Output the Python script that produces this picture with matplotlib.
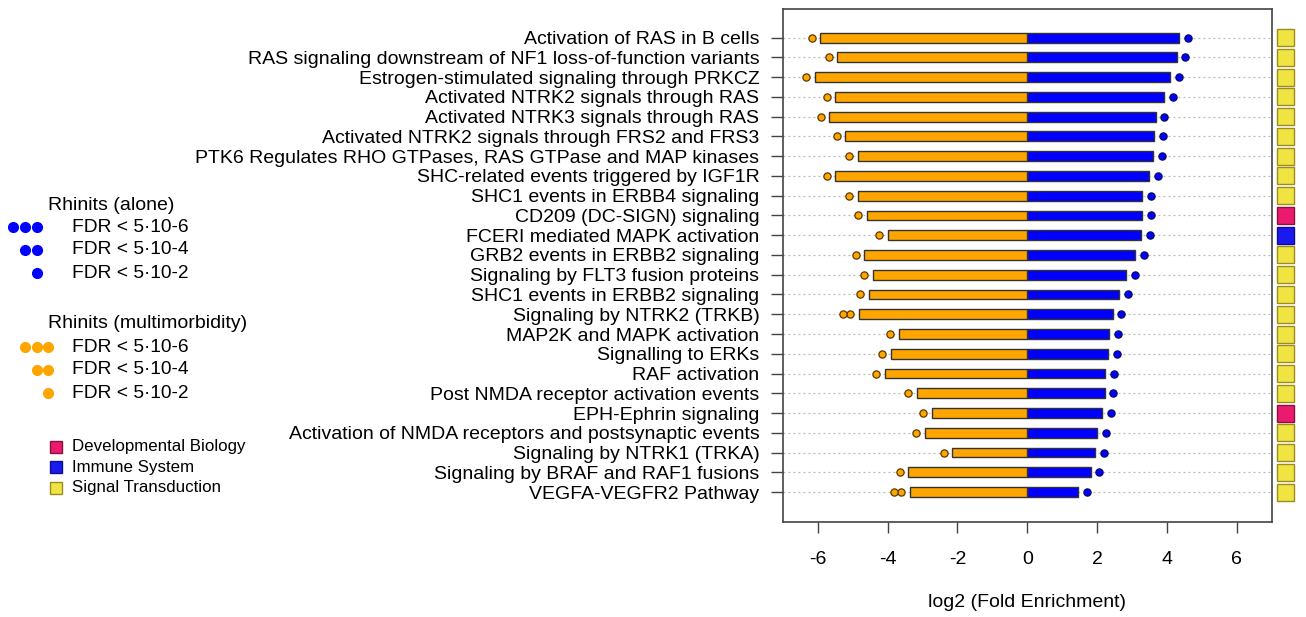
import matplotlib
matplotlib.use("Agg")
import matplotlib.pyplot as plt
from matplotlib.patches import Rectangle
import numpy as np

plt.rcParams['font.family'] = ['Liberation Sans', 'DejaVu Sans']

pathways = [
    "Activation of RAS in B cells",
    "RAS signaling downstream of NF1 loss-of-function variants",
    "Estrogen-stimulated signaling through PRKCZ",
    "Activated NTRK2 signals through RAS",
    "Activated NTRK3 signals through RAS",
    "Activated NTRK2 signals through FRS2 and FRS3",
    "PTK6 Regulates RHO GTPases, RAS GTPase and MAP kinases",
    "SHC-related events triggered by IGF1R",
    "SHC1 events in ERBB4 signaling",
    "CD209 (DC-SIGN) signaling",
    "FCERI mediated MAPK activation",
    "GRB2 events in ERBB2 signaling",
    "Signaling by FLT3 fusion proteins",
    "SHC1 events in ERBB2 signaling",
    "Signaling by NTRK2 (TRKB)",
    "MAP2K and MAPK activation",
    "Signalling to ERKs",
    "RAF activation",
    "Post NMDA receptor activation events",
    "EPH-Ephrin signaling",
    "Activation of NMDA receptors and postsynaptic events",
    "Signaling by NTRK1 (TRKA)",
    "Signaling by BRAF and RAF1 fusions",
    "VEGFA-VEGFR2 Pathway",
]
# log2 fold enrichment, rhinitis alone (positive side)
fe_alone = [4.35, 4.28, 4.09, 3.93, 3.68, 3.63, 3.60, 3.50, 3.29, 3.29, 3.26, 3.09,
            2.84, 2.63, 2.45, 2.35, 2.32, 2.23, 2.22, 2.15, 2.00, 1.94, 1.82, 1.45]
# log2 fold enrichment, rhinitis multimorbidity (drawn on negative side)
fe_multi = [5.93, 5.44, 6.08, 5.50, 5.67, 5.21, 4.86, 5.50, 4.86, 4.60, 4.00, 4.67,
            4.43, 4.54, 4.83, 3.67, 3.91, 4.09, 3.16, 2.73, 2.94, 2.15, 3.41, 3.37]
# number of significance dots (1: FDR<5e-2, 2: FDR<5e-4, 3: FDR<5e-6)
fdr_alone_level = [1] * 24
fdr_multi_level = [1, 1, 1, 1, 1, 1, 1, 1, 1, 1, 1, 1, 1, 1, 2, 1, 1, 1, 1, 1, 1, 1, 1, 2]
categories = ["Signal Transduction"] * 9 + ["Developmental Biology", "Immune System"] + \
             ["Signal Transduction"] * 8 + ["Developmental Biology"] + ["Signal Transduction"] * 4
cat_names = ["Developmental Biology", "Immune System", "Signal Transduction"]
cat_colors = {"Developmental Biology": ("#EA1A6E", "#8A1040"),
              "Immune System": ("#1A1AEE", "#10108A"),
              "Signal Transduction": ("#F0E442", "#9A8C20")}
xticks = [-6, -4, -2, 0, 2, 4, 6]
fdr_labels = ["FDR < 5·10-6", "FDR < 5·10-4", "FDR < 5·10-2"]

ORANGE = "#FFA500"
BLUE = "#0000FF"
FS = 14

W, H = 1306, 617
fig = plt.figure(figsize=(W / 100, H / 100), dpi=100)

def px_rect(x0, y0, x1, y1):
    return [x0 / W, 1 - y1 / H, (x1 - x0) / W, (y1 - y0) / H]

ax = fig.add_axes(px_rect(783, 9, 1271.5, 521.7))
n = len(pathways)
ypos = np.arange(n, 0, -1)

for y in ypos:
    ax.axhline(y, color="#b8b8b8", lw=0.9, ls=(0, (1.5, 2.5)), zorder=0)

ax.barh(ypos, fe_alone, height=0.5, color=BLUE, edgecolor="#333333", lw=1.0, zorder=2)
ax.barh(ypos, [-v for v in fe_multi], height=0.5, color=ORANGE, edgecolor="#333333", lw=1.0, zorder=2)

off1, off2 = 0.25, 0.20
for y, v, k in zip(ypos, fe_alone, fdr_alone_level):
    xs = [v + off1 + off2 * j for j in range(k)]
    ax.plot(xs, [y] * k, ls="none", marker="o", ms=5.2, mfc=BLUE, mec="#0a0a60", mew=0.9, zorder=3)
for y, v, k in zip(ypos, fe_multi, fdr_multi_level):
    xs = [-(v + off1 + off2 * j) for j in range(k)]
    ax.plot(xs, [y] * k, ls="none", marker="o", ms=5.2, mfc=ORANGE, mec="#5a3a00", mew=0.9, zorder=3)

ax.set_xlim(-7, 7)
ax.set_ylim(-0.5, n + 1.45)
ax.set_xticks(xticks)
ax.set_xticklabels([str(t) for t in xticks], fontsize=FS)
ax.set_yticks(ypos)
ax.set_yticklabels(pathways, fontsize=FS)
ax.tick_params(axis="x", length=8, width=1, color="#444444", pad=13)
ax.tick_params(axis="y", length=9, width=1, color="#444444", pad=8)
for s in ax.spines.values():
    s.set_color("#444444")
    s.set_linewidth(1.2)
ax.set_xlabel("log2 (Fold Enrichment)", fontsize=FS, labelpad=19)

# category squares
cax = fig.add_axes(px_rect(1276, 9, 1296, 521.7), sharey=ax)
cax.set_xlim(0, 1)
cax.axis("off")
for y, c in zip(ypos, categories):
    fc, ec = cat_colors[c]
    cax.add_patch(Rectangle((0.05, y - 0.43), 0.85, 0.86, facecolor=fc, edgecolor=ec, lw=1.0, clip_on=False))

# left legends in pixel coordinates
lax = fig.add_axes([0, 0, 1, 1])
lax.set_xlim(0, W)
lax.set_ylim(H, 0)
lax.axis("off")
lax.text(48, 205, "Rhinits (alone)", fontsize=FS, va="center", ha="left")
for i, lab in enumerate(fdr_labels):
    yy = 227 + i * 23
    lax.text(72, yy, lab, fontsize=13.8, va="center", ha="left")
    k = 3 - i
    lax.plot([37 - 12 * j for j in range(k)], [yy] * k, ls="none", marker="o", ms=7, color=BLUE)
lax.text(48, 323, "Rhinits (multimorbidity)", fontsize=FS, va="center", ha="left")
for i, lab in enumerate(fdr_labels):
    yy = 347 + i * 23
    lax.text(72, yy, lab, fontsize=13.8, va="center", ha="left")
    k = 3 - i
    lax.plot([48 - 11.5 * j for j in range(k)], [yy] * k, ls="none", marker="o", ms=7, color=ORANGE)
for i, c in enumerate(cat_names):
    yy = 447 + i * 20.3
    fc, ec = cat_colors[c]
    lax.add_patch(Rectangle((50, yy - 6), 12, 12, facecolor=fc, edgecolor=ec, lw=1.0))
    lax.text(72, yy, c, fontsize=12.2, va="center", ha="left")

fig.savefig("out.png", dpi=100)
